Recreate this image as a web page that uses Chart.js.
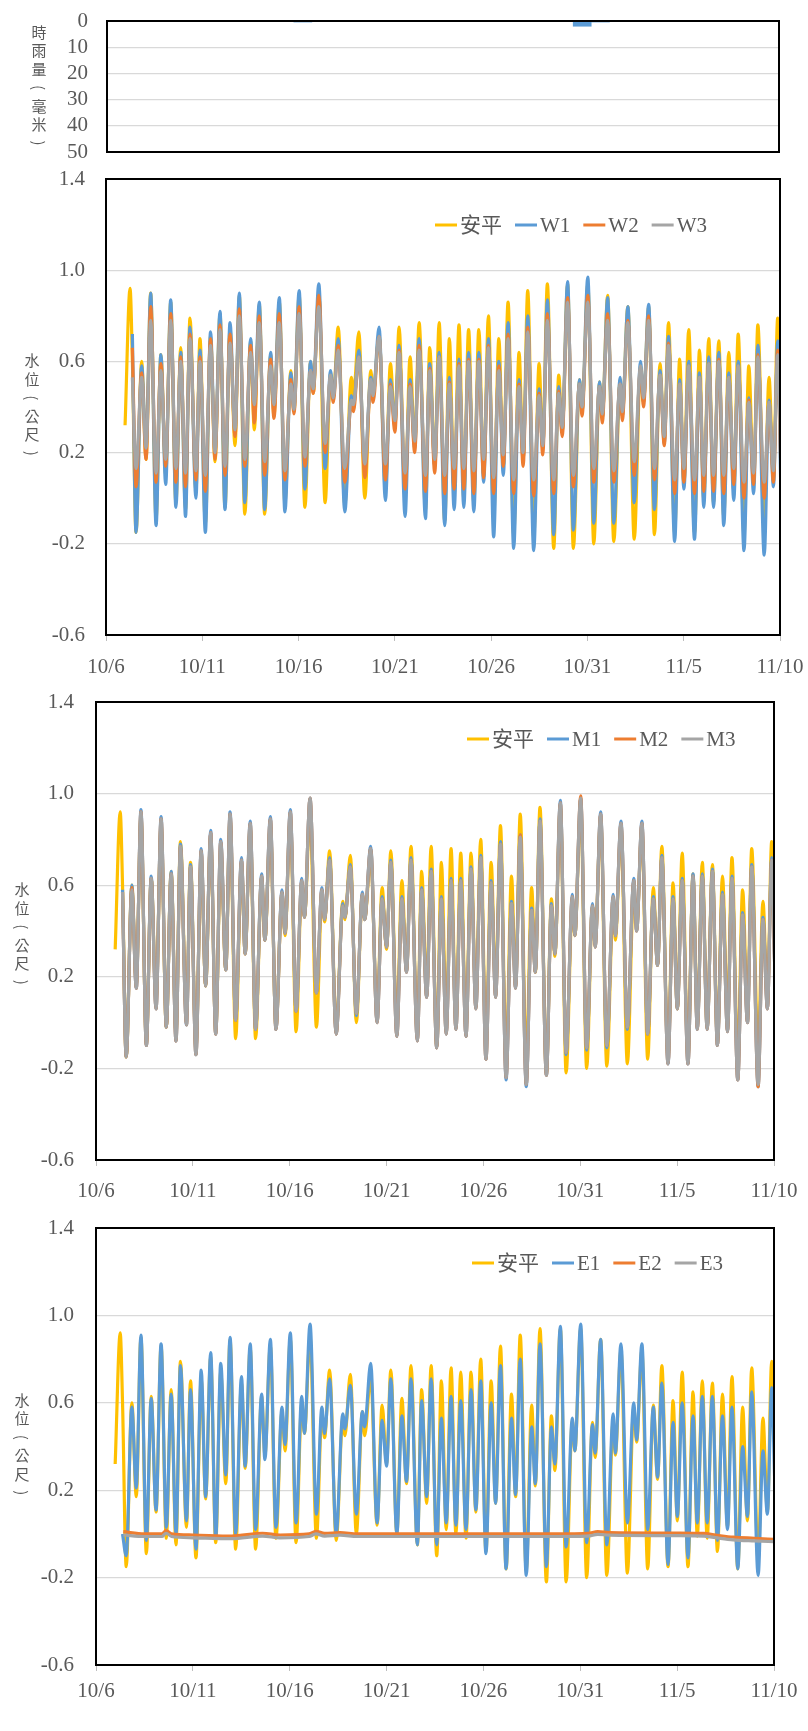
<!DOCTYPE html>
<html>
<head>
<meta charset="utf-8">
<script src="https://cdn.jsdelivr.net/npm/chart.js@4.4.0/dist/chart.umd.min.js"></script>
<style>
  body { margin: 0; background: #fff; }
  #page { position: relative; width: 808px; height: 1731px; }
  canvas { position: absolute; left: 0; }
</style>
</head>
<body>
<div id="page">
  <canvas id="rain" width="808" height="165" style="top:0px"></canvas>
  <canvas id="west" width="808" height="525" style="top:165px"></canvas>
  <canvas id="mid" width="808" height="520" style="top:690px"></canvas>
  <canvas id="east" width="808" height="521" style="top:1210px"></canvas>
</div>
<script>
// x axis: days after 10/6 00:00
const dayLabels = ['10/6', '10/11', '10/16', '10/21', '10/26', '10/31', '11/5', '11/10']

// hourly rain (mm)
const rainDay = [10.2, 24.75, 25.7]
const rainMm = [0.4, 2.0, 0.4]

// times of tidal highs/lows (days after 10/6)
const tideDay = [
  0.99, 1.25, 1.37, 1.56, 1.85, 2.08, 2.32, 2.60, 2.85, 3.10,
  3.36, 3.63, 3.88, 4.13, 4.36, 4.67, 4.88, 5.16, 5.43, 5.66,
  5.92, 6.18, 6.44, 6.70, 6.92, 7.21, 7.51, 7.70, 7.96, 8.24,
  8.55, 8.72, 9.00, 9.29, 9.60, 9.76, 10.03, 10.33, 10.62, 10.76,
  11.05, 11.38, 11.66, 11.80, 12.06, 12.40, 12.74, 12.85, 13.13, 13.44,
  13.75, 13.87, 14.18, 14.51, 14.77, 15.00, 15.22, 15.53, 15.79, 16.03,
  16.26, 16.59, 16.81, 17.07, 17.30, 17.59, 17.83, 18.08, 18.33, 18.58,
  18.83, 19.10, 19.36, 19.61, 19.86, 20.13, 20.40, 20.63, 20.88, 21.17,
  21.45, 21.66, 21.90, 22.21, 22.49, 22.68, 22.92, 23.25, 23.51, 23.69,
  23.97, 24.27, 24.59, 24.72, 25.02, 25.33, 25.63, 25.77, 26.05, 26.37,
  26.70, 26.81, 27.10, 27.43, 27.76, 27.91, 28.18, 28.48, 28.77, 28.99,
  29.21, 29.53, 29.79, 30.01, 30.26, 30.56, 30.82, 31.04, 31.30, 31.55,
  31.82, 32.08, 32.34, 32.60, 32.83, 33.13, 33.38, 33.63, 33.85, 34.18,
  34.43, 34.66, 34.88, 35.05
]

const anping = [
  0.32, 0.92, 0.60, -0.15, 0.60, 0.17, 0.90, -0.09, 0.63, 0.10,
  0.86, -0.02, 0.66, -0.05, 0.79, 0.03, 0.70, -0.11, 0.71, 0.16,
  0.81, -0.04, 0.74, 0.23, 0.89, -0.07, 0.69, 0.30, 0.85, -0.07,
  0.63, 0.36, 0.86, -0.02, 0.56, 0.38, 0.89, -0.04, 0.60, 0.46,
  0.90, -0.02, 0.55, 0.44, 0.75, -0.03, 0.53, 0.45, 0.73, 0.00,
  0.56, 0.45, 0.72, 0.04, 0.59, 0.32, 0.75, 0.00, 0.62, 0.23,
  0.77, -0.05, 0.66, 0.14, 0.77, -0.10, 0.70, 0.02, 0.76, 0.00,
  0.74, -0.02, 0.74, 0.10, 0.80, -0.08, 0.70, 0.14, 0.86, -0.16,
  0.64, 0.17, 0.91, -0.17, 0.59, 0.22, 0.94, -0.22, 0.54, 0.29,
  0.94, -0.22, 0.52, 0.38, 0.94, -0.20, 0.51, 0.35, 0.89, -0.19,
  0.52, 0.36, 0.84, -0.18, 0.58, 0.42, 0.84, -0.16, 0.59, 0.25,
  0.77, -0.15, 0.61, 0.06, 0.74, -0.15, 0.65, -0.01, 0.70, -0.02,
  0.69, -0.08, 0.64, 0.03, 0.72, -0.16, 0.58, 0.06, 0.76, -0.12,
  0.53, 0.10, 0.79, 0.45
]

const w1 = [
  null, null, 0.72, -0.15, 0.58, 0.22, 0.90, -0.12, 0.63, 0.06,
  0.87, -0.04, 0.64, -0.08, 0.75, 0.00, 0.65, -0.15, 0.73, 0.20,
  0.82, -0.05, 0.77, 0.28, 0.90, -0.02, 0.70, 0.38, 0.86, -0.05,
  0.64, 0.38, 0.88, -0.06, 0.55, 0.40, 0.91, 0.04, 0.60, 0.48,
  0.94, 0.13, 0.56, 0.44, 0.70, -0.06, 0.45, 0.40, 0.65, 0.12,
  0.53, 0.45, 0.75, -0.01, 0.52, 0.32, 0.67, -0.08, 0.52, 0.22,
  0.70, -0.09, 0.59, 0.14, 0.64, -0.12, 0.53, -0.05, 0.61, -0.04,
  0.64, -0.06, 0.64, 0.07, 0.70, -0.17, 0.60, 0.10, 0.77, -0.22,
  0.52, 0.17, 0.80, -0.23, 0.48, 0.22, 0.87, -0.16, 0.49, 0.29,
  0.95, -0.14, 0.52, 0.38, 0.97, -0.11, 0.51, 0.35, 0.88, -0.11,
  0.53, 0.36, 0.84, -0.02, 0.60, 0.42, 0.85, -0.05, 0.56, 0.24,
  0.71, -0.19, 0.52, 0.04, 0.60, -0.18, 0.55, -0.04, 0.62, -0.04,
  0.64, -0.12, 0.55, -0.01, 0.60, -0.23, 0.44, 0.02, 0.67, -0.25,
  0.43, 0.05, 0.69, 0.00
]

const w2 = [
  null, null, 0.66, 0.05, 0.55, 0.17, 0.84, 0.07, 0.59, 0.14,
  0.81, 0.07, 0.62, 0.05, 0.72, 0.08, 0.62, 0.03, 0.70, 0.17,
  0.76, 0.10, 0.72, 0.27, 0.83, 0.14, 0.67, 0.33, 0.80, 0.10,
  0.61, 0.35, 0.81, 0.08, 0.52, 0.37, 0.84, 0.14, 0.56, 0.46,
  0.89, 0.20, 0.53, 0.42, 0.67, 0.07, 0.42, 0.38, 0.62, 0.09,
  0.51, 0.42, 0.71, 0.08, 0.50, 0.29, 0.65, 0.04, 0.50, 0.20,
  0.67, 0.03, 0.57, 0.11, 0.62, 0.02, 0.51, 0.04, 0.59, 0.04,
  0.61, 0.02, 0.61, 0.09, 0.67, 0.02, 0.58, 0.14, 0.72, 0.02,
  0.50, 0.14, 0.75, 0.01, 0.46, 0.19, 0.81, 0.02, 0.47, 0.27,
  0.88, 0.05, 0.50, 0.36, 0.89, 0.07, 0.49, 0.33, 0.81, 0.07,
  0.50, 0.34, 0.78, 0.10, 0.57, 0.40, 0.80, 0.08, 0.54, 0.23,
  0.68, 0.02, 0.50, 0.07, 0.58, 0.02, 0.53, 0.03, 0.59, 0.03,
  0.61, 0.02, 0.53, 0.06, 0.58, 0.00, 0.43, 0.06, 0.63, 0.00,
  0.42, 0.07, 0.65, 0.10
]

const w3 = [
  null, null, 0.53, 0.13, 0.53, 0.22, 0.78, 0.11, 0.56, 0.17,
  0.78, 0.13, 0.60, 0.11, 0.70, 0.12, 0.60, 0.10, 0.67, 0.20,
  0.74, 0.14, 0.68, 0.30, 0.80, 0.17, 0.64, 0.41, 0.77, 0.16,
  0.58, 0.41, 0.77, 0.12, 0.50, 0.39, 0.81, 0.18, 0.56, 0.48,
  0.84, 0.24, 0.54, 0.44, 0.65, 0.13, 0.43, 0.41, 0.62, 0.15,
  0.52, 0.45, 0.71, 0.15, 0.49, 0.34, 0.64, 0.11, 0.49, 0.25,
  0.65, 0.10, 0.56, 0.17, 0.62, 0.10, 0.50, 0.13, 0.58, 0.13,
  0.60, 0.12, 0.60, 0.17, 0.66, 0.09, 0.56, 0.19, 0.70, 0.08,
  0.49, 0.20, 0.73, 0.08, 0.45, 0.23, 0.78, 0.08, 0.46, 0.31,
  0.86, 0.10, 0.50, 0.40, 0.86, 0.13, 0.49, 0.37, 0.78, 0.12,
  0.50, 0.38, 0.77, 0.16, 0.58, 0.44, 0.78, 0.13, 0.54, 0.27,
  0.67, 0.08, 0.50, 0.13, 0.58, 0.08, 0.53, 0.10, 0.59, 0.10,
  0.60, 0.10, 0.53, 0.13, 0.58, 0.07, 0.42, 0.11, 0.62, 0.07,
  0.42, 0.12, 0.63, 0.15
]

const m1 = [
  null, null, 0.58, -0.15, 0.60, 0.15, 0.93, -0.10, 0.64, 0.06,
  0.90, -0.02, 0.66, -0.08, 0.78, -0.01, 0.69, -0.14, 0.76, 0.16,
  0.84, -0.05, 0.80, 0.23, 0.92, 0.01, 0.72, 0.30, 0.88, -0.03,
  0.65, 0.36, 0.90, -0.03, 0.58, 0.39, 0.93, 0.05, 0.63, 0.46,
  0.98, 0.13, 0.59, 0.45, 0.72, -0.05, 0.52, 0.46, 0.69, 0.03,
  0.57, 0.45, 0.77, 0.00, 0.55, 0.33, 0.71, -0.06, 0.55, 0.22,
  0.72, -0.08, 0.59, 0.11, 0.67, -0.11, 0.55, -0.05, 0.63, -0.03,
  0.63, -0.06, 0.68, 0.06, 0.73, -0.16, 0.62, 0.11, 0.79, -0.25,
  0.53, 0.15, 0.82, -0.28, 0.50, 0.22, 0.89, -0.23, 0.52, 0.30,
  0.97, -0.14, 0.56, 0.38, 0.98, -0.12, 0.52, 0.33, 0.92, -0.11,
  0.56, 0.38, 0.88, -0.03, 0.63, 0.40, 0.88, -0.05, 0.55, 0.25,
  0.73, -0.18, 0.55, 0.06, 0.63, -0.18, 0.65, -0.03, 0.65, -0.03,
  0.67, -0.10, 0.57, -0.04, 0.64, -0.25, 0.48, 0.00, 0.69, -0.28,
  0.46, 0.06, 0.72, 0.20
]

const m2 = [
  null, null, 0.57, -0.15, 0.59, 0.15, 0.92, -0.10, 0.63, 0.06,
  0.89, -0.02, 0.65, -0.08, 0.77, -0.01, 0.68, -0.14, 0.75, 0.16,
  0.83, -0.05, 0.79, 0.23, 0.91, 0.01, 0.71, 0.30, 0.87, -0.03,
  0.64, 0.36, 0.89, -0.03, 0.57, 0.39, 0.92, 0.05, 0.62, 0.46,
  0.98, 0.13, 0.58, 0.45, 0.71, -0.05, 0.51, 0.46, 0.68, 0.04,
  0.56, 0.45, 0.76, 0.00, 0.54, 0.33, 0.70, -0.06, 0.54, 0.22,
  0.71, -0.08, 0.58, 0.11, 0.66, -0.11, 0.54, -0.05, 0.62, -0.03,
  0.62, -0.06, 0.67, 0.06, 0.72, -0.16, 0.61, 0.11, 0.78, -0.24,
  0.52, 0.15, 0.82, -0.27, 0.49, 0.22, 0.88, -0.23, 0.51, 0.30,
  0.96, -0.13, 0.55, 0.38, 0.99, -0.11, 0.51, 0.33, 0.91, -0.10,
  0.55, 0.38, 0.87, -0.02, 0.62, 0.40, 0.87, -0.05, 0.54, 0.25,
  0.72, -0.18, 0.54, 0.06, 0.62, -0.18, 0.64, -0.03, 0.64, -0.03,
  0.66, -0.10, 0.56, -0.04, 0.63, -0.25, 0.47, 0.00, 0.68, -0.28,
  0.45, 0.06, 0.71, 0.20
]

const m3 = [
  null, null, 0.57, -0.15, 0.58, 0.15, 0.92, -0.10, 0.63, 0.06,
  0.89, -0.02, 0.65, -0.08, 0.77, -0.01, 0.68, -0.14, 0.75, 0.16,
  0.83, -0.05, 0.79, 0.23, 0.91, 0.01, 0.71, 0.30, 0.87, -0.03,
  0.64, 0.36, 0.89, -0.03, 0.57, 0.39, 0.92, 0.05, 0.62, 0.46,
  0.98, 0.13, 0.58, 0.45, 0.71, -0.05, 0.51, 0.46, 0.68, 0.04,
  0.56, 0.45, 0.76, 0.00, 0.54, 0.33, 0.70, -0.06, 0.54, 0.22,
  0.71, -0.08, 0.58, 0.11, 0.66, -0.11, 0.54, -0.05, 0.62, -0.03,
  0.62, -0.06, 0.67, 0.06, 0.72, -0.16, 0.61, 0.11, 0.78, -0.24,
  0.52, 0.15, 0.81, -0.27, 0.49, 0.22, 0.88, -0.23, 0.51, 0.30,
  0.96, -0.13, 0.55, 0.38, 0.98, -0.11, 0.51, 0.33, 0.91, -0.10,
  0.55, 0.38, 0.87, -0.02, 0.62, 0.40, 0.87, -0.05, 0.54, 0.25,
  0.72, -0.18, 0.54, 0.06, 0.62, -0.18, 0.64, -0.03, 0.64, -0.03,
  0.66, -0.10, 0.56, -0.04, 0.63, -0.25, 0.47, 0.00, 0.68, -0.27,
  0.45, 0.06, 0.71, 0.20
]

const e1 = [
  null, null, 0.00, -0.10, 0.58, 0.21, 0.91, -0.03, 0.62, 0.11,
  0.87, 0.03, 0.64, 0.00, 0.77, 0.06, 0.66, -0.07, 0.75, 0.17,
  0.83, -0.02, 0.78, 0.27, 0.90, 0.00, 0.72, 0.31, 0.87, 0.02,
  0.64, 0.34, 0.89, 0.03, 0.58, 0.41, 0.92, 0.05, 0.63, 0.46,
  0.96, 0.09, 0.58, 0.46, 0.71, 0.00, 0.55, 0.48, 0.68, 0.09,
  0.56, 0.49, 0.78, 0.05, 0.52, 0.31, 0.71, 0.00, 0.54, 0.24,
  0.71, -0.05, 0.61, 0.17, 0.71, -0.05, 0.53, 0.05, 0.63, 0.04,
  0.61, 0.02, 0.66, 0.11, 0.70, -0.09, 0.60, 0.14, 0.77, -0.16,
  0.53, 0.18, 0.80, -0.19, 0.49, 0.23, 0.87, -0.15, 0.49, 0.32,
  0.95, -0.06, 0.53, 0.38, 0.96, -0.04, 0.50, 0.37, 0.89, -0.05,
  0.55, 0.37, 0.87, 0.05, 0.60, 0.43, 0.87, 0.02, 0.58, 0.26,
  0.69, -0.14, 0.51, 0.08, 0.60, -0.11, 0.54, 0.05, 0.63, 0.05,
  0.63, -0.03, 0.54, 0.02, 0.58, -0.16, 0.40, 0.08, 0.65, -0.19,
  0.38, 0.09, 0.67, 0.20
]

// E2 / E3 barely move, so they are read at their own times
const eFlatDay = [1.41, 2.5, 3.4, 3.62, 3.9, 5.0, 7.0, 8.6, 9.5, 11.0, 11.35, 11.8, 12.6, 13.5, 17.0, 20.0, 23.0, 25.4, 25.9, 26.5, 30.0, 31.4, 32.2, 32.9, 34.0, 35.05]
const e2 = [0.010, 0.000, 0.000, 0.015, 0.000, -0.005, -0.010, 0.003, -0.005, 0.000, 0.012, 0.002, 0.006, 0.000, 0.000, 0.000, 0.000, 0.003, 0.010, 0.006, 0.004, 0.002, -0.008, -0.015, -0.020, -0.025]
const e3 = [-0.005, -0.012, -0.012, 0.003, -0.012, -0.018, -0.022, -0.010, -0.018, -0.012, 0.000, -0.010, -0.006, -0.012, -0.012, -0.012, -0.012, -0.010, -0.002, -0.006, -0.008, -0.010, -0.020, -0.027, -0.032, -0.036]

const YELLOW = '#FFC000', BLUE = '#5B9BD5', ORANGE = '#ED7D31', GRAY = '#A5A5A5'
const TEXT = '#595959'
const TICK_FONT = { family: "'Liberation Serif', 'Times New Roman', serif", size: 21 }
const LEGEND_FONT = "21px 'Liberation Serif', 'Noto Sans CJK TC', serif"
const TITLE_FONT = "15px 'Noto Sans CJK TC', sans-serif"

const framePlugin = {
  id: 'frame',
  afterDraw(chart) {
    const { ctx, chartArea: a } = chart
    ctx.save()
    ctx.strokeStyle = '#000'
    ctx.lineWidth = 2
    ctx.strokeRect(a.left, a.top, a.right - a.left, a.bottom - a.top)
    ctx.restore()
  }
}

// stacked, upright axis title; brackets are turned a quarter so they read vertically
const vtitlePlugin = {
  id: 'vtitle',
  afterDraw(chart, args, opts) {
    const { ctx, chartArea: a } = chart
    const chars = Array.from(opts.text)
    const mid = (a.top + a.bottom) / 2 + (opts.shift || 0)
    ctx.save()
    ctx.font = TITLE_FONT
    ctx.fillStyle = TEXT
    ctx.textAlign = 'center'
    ctx.textBaseline = 'middle'
    chars.forEach((c, i) => {
      const y = mid + (i - (chars.length - 1) / 2) * opts.step
      if (c === '(' || c === ')') {
        ctx.save()
        ctx.translate(opts.x, y)
        ctx.rotate(Math.PI / 2)
        ctx.fillText(c, 0, 0)
        ctx.restore()
      } else {
        ctx.fillText(c, opts.x, y)
      }
    })
    ctx.restore()
  }
}

// legend drawn inside the plot area, like the original
const inLegendPlugin = {
  id: 'inlegend',
  afterDraw(chart, args, opts) {
    if (!opts.x) return
    const { ctx } = chart
    let x = opts.x
    ctx.save()
    ctx.font = LEGEND_FONT
    ctx.textBaseline = 'middle'
    chart.data.datasets.forEach(ds => {
      ctx.strokeStyle = ds.borderColor
      ctx.lineWidth = 3
      ctx.beginPath()
      ctx.moveTo(x, opts.y)
      ctx.lineTo(x + 22, opts.y)
      ctx.stroke()
      x += 25
      ctx.fillStyle = TEXT
      ctx.fillText(ds.label, x, opts.y + 1)
      x += ctx.measureText(ds.label).width + 13
    })
    ctx.restore()
  }
}

function series(label, color, values, order, days = tideDay) {
  const data = []
  values.forEach((v, i) => { if (v !== null) data.push({ x: days[i], y: v }) })
  return {
    label, data, order,
    borderColor: color, backgroundColor: color,
    borderWidth: 3.2, pointRadius: 0,
    cubicInterpolationMode: 'monotone'
  }
}

function levelChart(id, box, datasets) {
  new Chart(document.getElementById(id), {
    type: 'line',
    data: { datasets },
    plugins: [framePlugin, vtitlePlugin, inLegendPlugin],
    options: {
      responsive: false,
      animation: false,
      layout: { padding: { top: box.padTop, right: 808 - box.right, left: 0, bottom: 0 } },
      plugins: {
        legend: { display: false },
        tooltip: { enabled: false },
        vtitle: { text: '水位(公尺)', x: box.titleX, step: 18.5, shift: box.titleShift || 0 },
        inlegend: { x: box.legendX, y: box.legendY }
      },
      scales: {
        x: {
          type: 'linear', min: 0, max: 35,
          ticks: {
            stepSize: 5, autoSkip: false, maxRotation: 0,
            callback: v => dayLabels[Math.round(v / 5)],
            font: TICK_FONT, color: TEXT, padding: box.xPad
          },
          grid: { drawOnChartArea: false, tickLength: 6, color: '#bfbfbf' },
          border: { display: false },
          afterFit: s => { s.height = box.xHeight; s.paddingLeft = 0; s.paddingRight = 0 }
        },
        y: {
          min: -0.6, max: 1.4,
          ticks: { stepSize: 0.4, autoSkip: false, callback: v => v.toFixed(1), font: TICK_FONT, color: TEXT, padding: box.yPad },
          grid: { color: '#d9d9d9', lineWidth: 1.3, drawTicks: false },
          border: { display: false },
          afterFit: s => { s.width = box.left; s.paddingTop = 0; s.paddingBottom = 0 }
        }
      }
    }
  })
}

// rainfall panel (axis reversed, 0 at the top)
new Chart(document.getElementById('rain'), {
  type: 'bar',
  data: {
    datasets: [{
      label: '時雨量',
      data: rainDay.map((d, i) => ({ x: d, y: rainMm[i] })),
      backgroundColor: BLUE,
      barThickness: 18
    }]
  },
  plugins: [framePlugin, vtitlePlugin],
  options: {
    responsive: false,
    animation: false,
    layout: { padding: { top: 21, right: 29, left: 0, bottom: 13 } },
    plugins: {
      legend: { display: false },
      tooltip: { enabled: false },
      vtitle: { text: '時雨量(毫米)', x: 39, step: 18.5, shift: 1 }
    },
    scales: {
      x: { type: 'linear', min: 0, max: 35, offset: false, display: false },
      y: {
        min: 0, max: 50, reverse: true,
        ticks: { stepSize: 10, autoSkip: false, font: TICK_FONT, color: TEXT, padding: 19 },
        grid: { color: '#d9d9d9', lineWidth: 1.3, drawTicks: false },
        border: { display: false },
        afterFit: s => { s.width = 107; s.paddingTop = 0; s.paddingBottom = 0 }
      }
    }
  }
})

levelChart('west', {
  padTop: 14, left: 106, right: 780, xHeight: 55, xPad: 14, yPad: 21,
  titleX: 32, legendX: 435, legendY: 60
}, [
  series('安平', YELLOW, anping, 4),
  series('W1', BLUE, w1, 3),
  series('W2', ORANGE, w2, 2),
  series('W3', GRAY, w3, 1)
])

levelChart('mid', {
  padTop: 12, left: 96, right: 774, xHeight: 50, xPad: 13, yPad: 22,
  titleX: 22, titleShift: 5, legendX: 467, legendY: 49
}, [
  series('安平', YELLOW, anping, 4),
  series('M1', BLUE, m1, 3),
  series('M2', ORANGE, m2, 2),
  series('M3', GRAY, m3, 1)
])

levelChart('east', {
  padTop: 18, left: 96, right: 774, xHeight: 66, xPad: 8, yPad: 22,
  titleX: 22, legendX: 472, legendY: 53
}, [
  series('安平', YELLOW, anping, 4),
  series('E1', BLUE, e1, 3),
  series('E2', ORANGE, e2, 2, eFlatDay),
  series('E3', GRAY, e3, 1, eFlatDay)
])
</script>
</body>
</html>
